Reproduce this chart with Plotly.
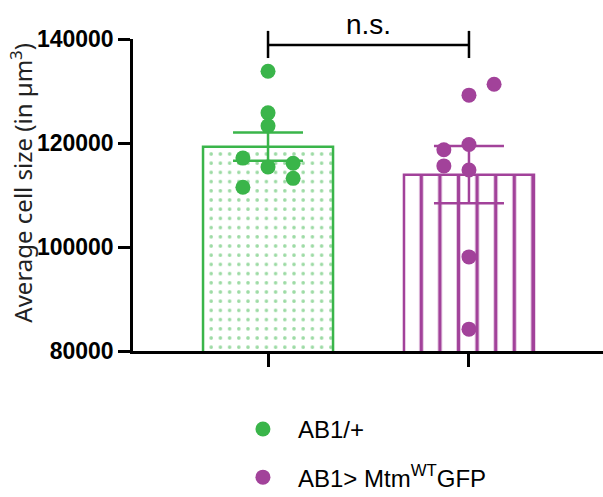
import plotly.graph_objects as go

# ---- data ----
groups = ["AB1/+", "AB1> Mtm<sup>WT</sup>GFP"]
means = [119300, 113900]
sems = [2700, 5500]
green_vals = [133800, 125800, 123300, 117100, 115400, 116100, 113200, 111500]
green_jit = [0, 0, 0, -1, 0, 1, 1, -1]
purple_vals = [131300, 129200, 119700, 118700, 115600, 114800, 98100, 84200]
purple_jit = [1, 0, 0, -1, -1, 0, 0, 0]
y_ticks = [80000, 100000, 120000, 140000]
y_title = "Average cell size (in µm<sup>3</sup>)"

GREEN = "#3AB54A"
PURPLE = "#A2429A"
JIT = 0.125

fig = go.Figure()

fig.add_trace(go.Bar(
    x=[0], y=[means[0]], width=0.647, showlegend=False,
    marker=dict(color="white", line=dict(color=GREEN, width=2.5),
                pattern=dict(shape=".", fgcolor=GREEN, bgcolor="white", size=9.2, solidity=0.12)),
    error_y=dict(type="data", array=[sems[0]], color=GREEN, thickness=2.5, width=35),
))
fig.add_trace(go.Bar(
    x=[1], y=[means[1]], width=0.647, showlegend=False,
    marker=dict(color="white", line=dict(color=PURPLE, width=2.5),
                pattern=dict(shape="|", fgcolor=PURPLE, bgcolor="white", fgopacity=1,
                             size=18.6, solidity=0.19)),
    error_y=dict(type="data", array=[sems[1]], color=PURPLE, thickness=2.5, width=35),
))

fig.add_trace(go.Scatter(
    x=[0 + j * JIT for j in green_jit], y=green_vals, mode="markers", name=groups[0],
    legendgroup="g1", marker=dict(color=GREEN, size=15), cliponaxis=False,
))
fig.add_trace(go.Scatter(
    x=[1 + j * JIT for j in purple_jit], y=purple_vals, mode="markers", name=groups[1],
    legendgroup="g2", marker=dict(color=PURPLE, size=15), cliponaxis=False,
))

# significance bracket
for xs, ys in [([0, 1], [0.981, 0.981]), ([0, 0], [0.939, 1.026]), ([1, 1], [0.939, 1.026])]:
    fig.add_shape(type="line", xref="x", yref="paper", x0=xs[0], x1=xs[1], y0=ys[0], y1=ys[1],
                  line=dict(color="black", width=2.5))
fig.add_annotation(x=0.5, xref="x", y=1.047, yref="paper", text="n.s.", showarrow=False,
                   yanchor="middle", font=dict(family="Liberation Sans", size=28, color="black"))

# y-axis title
fig.add_annotation(x=-0.238, xref="paper", y=0.54, yref="paper", text=y_title, showarrow=False,
                   textangle=-90, xanchor="center", yanchor="middle",
                   font=dict(family="Noto Sans", size=24, color="#222"))

fig.update_layout(
    width=603, height=497,
    margin=dict(l=133, r=0, t=39, b=146, autoexpand=False),
    plot_bgcolor="white", paper_bgcolor="white",
    barmode="overlay",
    showlegend=True,
    legend=dict(x=0.202, y=-0.179, xanchor="left", yanchor="top", tracegroupgap=14,
                itemwidth=60,
                font=dict(family="Liberation Sans", size=24, color="black")),
    xaxis=dict(range=[-0.672, 1.667], tickvals=[0, 1], ticktext=["", ""], showline=True,
               linecolor="black", linewidth=2.5, ticks="outside", ticklen=13, tickwidth=2.5,
               tickcolor="black", showgrid=False, zeroline=False),
    yaxis=dict(range=[80000, 140000], tickvals=y_ticks, showline=True, linecolor="black",
               linewidth=2.5, ticks="outside", ticklen=12, tickwidth=2.5, tickcolor="black",
               showgrid=False, zeroline=False, tickformat="d",
               tickfont=dict(family="Liberation Sans", size=23, color="black", weight="bold")),
)

fig.write_html("out.html")
